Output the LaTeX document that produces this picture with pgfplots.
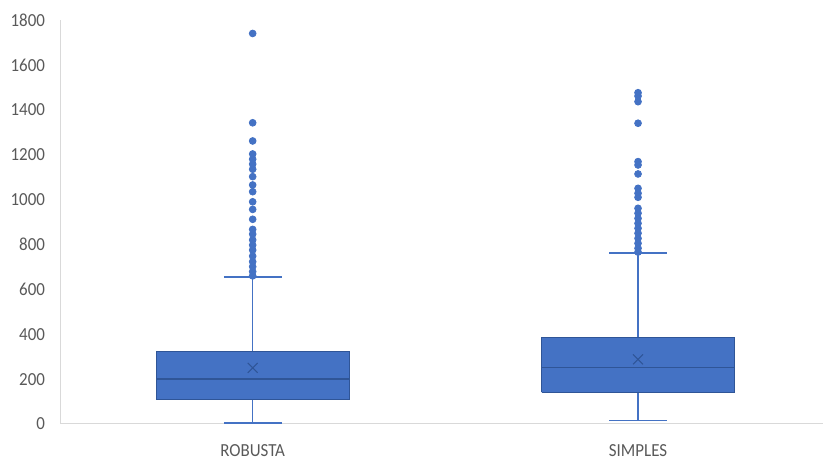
\documentclass[border=0pt]{standalone}
\usepackage{fontspec}
\setmainfont{Carlito}[FakeStretch=0.92]
\usepackage{pgfplots}
\pgfplotsset{compat=1.18}
\definecolor{boxfill}{HTML}{4472C4}
\definecolor{boxedge}{HTML}{2F5597}
\definecolor{axisgray}{HTML}{D9D9D9}
\definecolor{labelgray}{HTML}{595959}

\begin{document}
\begin{tikzpicture}
\begin{axis}[
  name=ax,
  scale only axis, width=381.5pt, height=202pt,
  xmin=0.5, xmax=2.48, ymin=0, ymax=1800,
  axis x line*=bottom, axis y line*=left,
  axis line style={axisgray, line width=0.5pt},
  xtick={1,2}, xticklabels={ROBUSTA,SIMPLES},
  ytick={0,200,...,1800},
  major tick length=0pt,
  tick label style={font=\fontsize{9.2}{10}\selectfont, text=labelgray},
  /pgf/number format/assume math mode=true,
  /pgf/number format/1000 sep={},
  yticklabel style={xshift=-4pt},
  xticklabel style={yshift=-7pt},
  whisker/.style={draw=boxfill, line width=0.8pt, forget plot},
  box/.style={draw=boxedge, fill=boxfill, line width=0.5pt, forget plot},
  med/.style={draw=boxedge, line width=0.7pt, forget plot},
  outlier/.style={only marks, mark=*, mark size=1.7pt,
    mark options={draw=boxfill, fill=boxfill}, forget plot},
]

% ---- ROBUSTA: whiskers 5 / 655, quartiles 107 / 325, median 200
\addplot[whisker] coordinates {(1,5) (1,107)};
\addplot[whisker] coordinates {(1,325) (1,655)};
\addplot[whisker] coordinates {(0.925,5) (1.075,5)};
\addplot[whisker] coordinates {(0.925,655) (1.075,655)};
\addplot[box] coordinates {(0.75,107) (1.25,107) (1.25,325) (0.75,325) (0.75,107)};
\addplot[med] coordinates {(0.75,200) (1.25,200)};

% ---- SIMPLES: whiskers 15 / 763, quartiles 141 / 386, median 251
\addplot[whisker] coordinates {(2,15) (2,141)};
\addplot[whisker] coordinates {(2,386) (2,763)};
\addplot[whisker] coordinates {(1.925,15) (2.075,15)};
\addplot[whisker] coordinates {(1.925,763) (2.075,763)};
\addplot[box] coordinates {(1.75,141) (2.25,141) (2.25,386) (1.75,386) (1.75,141)};
\addplot[med] coordinates {(1.75,251) (2.25,251)};

% means
\addplot[only marks, mark=x, mark size=3.5pt,
  mark options={draw=boxedge, line width=0.5pt}]
  coordinates {(1,250) (2,288)};

% outliers
\addplot[outlier] table[row sep=\\] {x y\\
  1 1740\\ 1 1342\\ 1 1261\\ 1 1203\\ 1 1180\\ 1 1158\\ 1 1135\\ 1 1102\\
  1 1065\\ 1 1035\\ 1 990\\ 1 956\\ 1 912\\ 1 867\\ 1 846\\ 1 820\\
  1 797\\ 1 775\\ 1 748\\ 1 723\\ 1 701\\ 1 679\\ 1 660\\};
\addplot[outlier] table[row sep=\\] {x y\\
  2 1476\\ 2 1461\\ 2 1436\\ 2 1340\\ 2 1169\\ 2 1154\\ 2 1114\\ 2 1050\\
  2 1028\\ 2 1010\\ 2 961\\ 2 939\\ 2 916\\ 2 894\\ 2 872\\ 2 850\\
  2 827\\ 2 805\\ 2 783\\ 2 766\\};
\end{axis}
% fixed frame around the axis: room for tick labels left, above and below
\pgfresetboundingbox
\path[use as bounding box]
  ([xshift=-30pt,yshift=-19pt]ax.south west) rectangle ([yshift=10pt]ax.north east);
\end{tikzpicture}
\end{document}
